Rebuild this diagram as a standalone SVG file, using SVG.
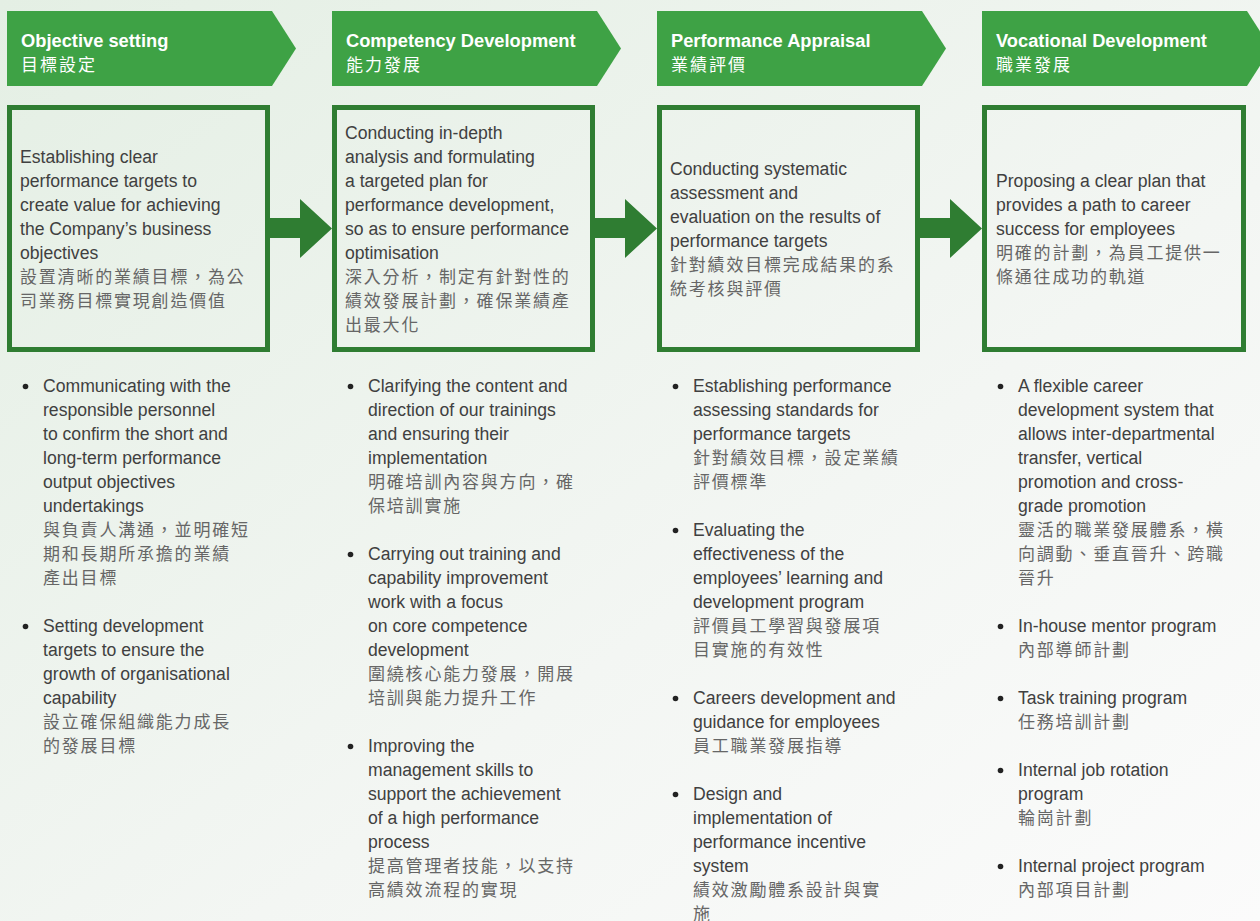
<svg xmlns="http://www.w3.org/2000/svg" width="1260" height="921" viewBox="0 0 1260 921">
<defs>
<linearGradient id="bg" x1="0" y1="0" x2="1" y2="1">
<stop offset="0" stop-color="#e4efe4"/>
<stop offset="0.6" stop-color="#f3f6f3"/>
<stop offset="1" stop-color="#fbfbfb"/>
</linearGradient>
<style>
.hdr{fill:#3ea245}
.hen{font-family:"Liberation Sans",Arial,sans-serif;font-weight:bold;font-size:18.3px;fill:#fff}
.hzh{font-family:"Noto Sans CJK TC","Noto Sans CJK SC",sans-serif;font-size:17px;letter-spacing:2px;fill:#fff}
.box{fill:none;stroke:#2f7d32;stroke-width:5}
.arr{fill:#2f7d32}
.en{font-family:"Liberation Sans",Arial,sans-serif;font-size:17.6px;fill:#404040}
.zh{font-family:"Noto Sans CJK TC","Noto Sans CJK SC",sans-serif;font-size:17px;letter-spacing:1.8px;fill:#666}
.dot{fill:#222}
</style>
</defs>
<rect width="1260" height="921" fill="url(#bg)"/>

<g id="header1">
<polygon class="hdr" points="7,11 272,11 296,48.5 272,86 7,86"/>
<text class="hen" x="21" y="47">Objective setting</text>
<text class="hzh" x="21" y="71">目標設定</text>
</g>
<g id="header2">
<polygon class="hdr" points="332,11 597,11 621,48.5 597,86 332,86"/>
<text class="hen" x="346" y="47">Competency Development</text>
<text class="hzh" x="346" y="71">能力發展</text>
</g>
<g id="header3">
<polygon class="hdr" points="657,11 922,11 946,48.5 922,86 657,86"/>
<text class="hen" x="671" y="47">Performance Appraisal</text>
<text class="hzh" x="671" y="71">業績評價</text>
</g>
<g id="header4">
<polygon class="hdr" points="982,11 1247,11 1271,48.5 1247,86 982,86"/>
<text class="hen" x="996" y="47">Vocational Development</text>
<text class="hzh" x="996" y="71">職業發展</text>
</g>

<g id="box1">
<rect class="box" x="9.5" y="107.5" width="258" height="242"/>
<text class="en" x="20" y="163">Establishing clear</text>
<text class="en" x="20" y="187">performance targets to</text>
<text class="en" x="20" y="211">create value for achieving</text>
<text class="en" x="20" y="235">the Company’s business</text>
<text class="en" x="20" y="259">objectives</text>
<text class="zh" x="20" y="283">設置清晰的業績目標，為公</text>
<text class="zh" x="20" y="307">司業務目標實現創造價值</text>
</g>
<g id="box2">
<rect class="box" x="334.5" y="107.5" width="258" height="242"/>
<text class="en" x="345" y="139">Conducting in-depth</text>
<text class="en" x="345" y="163">analysis and formulating</text>
<text class="en" x="345" y="187">a targeted plan for</text>
<text class="en" x="345" y="211">performance development,</text>
<text class="en" x="345" y="235">so as to ensure performance</text>
<text class="en" x="345" y="259">optimisation</text>
<text class="zh" x="345" y="283">深入分析，制定有針對性的</text>
<text class="zh" x="345" y="307">績效發展計劃，確保業績產</text>
<text class="zh" x="345" y="331">出最大化</text>
</g>
<g id="box3">
<rect class="box" x="659.5" y="107.5" width="258" height="242"/>
<text class="en" x="670" y="175">Conducting systematic</text>
<text class="en" x="670" y="199">assessment and</text>
<text class="en" x="670" y="223">evaluation on the results of</text>
<text class="en" x="670" y="247">performance targets</text>
<text class="zh" x="670" y="271">針對績效目標完成結果的系</text>
<text class="zh" x="670" y="295">統考核與評價</text>
</g>
<g id="box4">
<rect class="box" x="984.5" y="107.5" width="259" height="242"/>
<text class="en" x="996" y="187">Proposing a clear plan that</text>
<text class="en" x="996" y="211">provides a path to career</text>
<text class="en" x="996" y="235">success for employees</text>
<text class="zh" x="996" y="259">明確的計劃，為員工提供一</text>
<text class="zh" x="996" y="283">條通往成功的軌道</text>
</g>

<g id="connectors">
<polygon class="arr" points="268,218 300,218 300,199 332,228.5 300,258 300,238 268,238"/>
<polygon class="arr" points="593,218 625,218 625,199 657,228.5 625,258 625,238 593,238"/>
<polygon class="arr" points="918,218 950,218 950,199 982,228.5 950,258 950,238 918,238"/>
</g>

<g id="list1">
<circle class="dot" cx="25.5" cy="386.5" r="2.8"/>
<text class="en" x="43" y="392">Communicating with the</text>
<text class="en" x="43" y="416">responsible personnel</text>
<text class="en" x="43" y="440">to confirm the short and</text>
<text class="en" x="43" y="464">long-term performance</text>
<text class="en" x="43" y="488">output objectives</text>
<text class="en" x="43" y="512">undertakings</text>
<text class="zh" x="43" y="536">與負責人溝通，並明確短</text>
<text class="zh" x="43" y="560">期和長期所承擔的業績</text>
<text class="zh" x="43" y="584">產出目標</text>
<circle class="dot" cx="25.5" cy="626.5" r="2.8"/>
<text class="en" x="43" y="632">Setting development</text>
<text class="en" x="43" y="656">targets to ensure the</text>
<text class="en" x="43" y="680">growth of organisational</text>
<text class="en" x="43" y="704">capability</text>
<text class="zh" x="43" y="728">設立確保組織能力成長</text>
<text class="zh" x="43" y="752">的發展目標</text>
</g>

<g id="list2">
<circle class="dot" cx="350.5" cy="386.5" r="2.8"/>
<text class="en" x="368" y="392">Clarifying the content and</text>
<text class="en" x="368" y="416">direction of our trainings</text>
<text class="en" x="368" y="440">and ensuring their</text>
<text class="en" x="368" y="464">implementation</text>
<text class="zh" x="368" y="488">明確培訓內容與方向，確</text>
<text class="zh" x="368" y="512">保培訓實施</text>
<circle class="dot" cx="350.5" cy="554.5" r="2.8"/>
<text class="en" x="368" y="560">Carrying out training and</text>
<text class="en" x="368" y="584">capability improvement</text>
<text class="en" x="368" y="608">work with a focus</text>
<text class="en" x="368" y="632">on core competence</text>
<text class="en" x="368" y="656">development</text>
<text class="zh" x="368" y="680">圍繞核心能力發展，開展</text>
<text class="zh" x="368" y="704">培訓與能力提升工作</text>
<circle class="dot" cx="350.5" cy="746.5" r="2.8"/>
<text class="en" x="368" y="752">Improving the</text>
<text class="en" x="368" y="776">management skills to</text>
<text class="en" x="368" y="800">support the achievement</text>
<text class="en" x="368" y="824">of a high performance</text>
<text class="en" x="368" y="848">process</text>
<text class="zh" x="368" y="872">提高管理者技能，以支持</text>
<text class="zh" x="368" y="896">高績效流程的實現</text>
</g>

<g id="list3">
<circle class="dot" cx="675.5" cy="386.5" r="2.8"/>
<text class="en" x="693" y="392">Establishing performance</text>
<text class="en" x="693" y="416">assessing standards for</text>
<text class="en" x="693" y="440">performance targets</text>
<text class="zh" x="693" y="464">針對績效目標，設定業績</text>
<text class="zh" x="693" y="488">評價標準</text>
<circle class="dot" cx="675.5" cy="530.5" r="2.8"/>
<text class="en" x="693" y="536">Evaluating the</text>
<text class="en" x="693" y="560">effectiveness of the</text>
<text class="en" x="693" y="584">employees’ learning and</text>
<text class="en" x="693" y="608">development program</text>
<text class="zh" x="693" y="632">評價員工學習與發展項</text>
<text class="zh" x="693" y="656">目實施的有效性</text>
<circle class="dot" cx="675.5" cy="698.5" r="2.8"/>
<text class="en" x="693" y="704">Careers development and</text>
<text class="en" x="693" y="728">guidance for employees</text>
<text class="zh" x="693" y="752">員工職業發展指導</text>
<circle class="dot" cx="675.5" cy="794.5" r="2.8"/>
<text class="en" x="693" y="800">Design and</text>
<text class="en" x="693" y="824">implementation of</text>
<text class="en" x="693" y="848">performance incentive</text>
<text class="en" x="693" y="872">system</text>
<text class="zh" x="693" y="896">績效激勵體系設計與實</text>
<text class="zh" x="693" y="920">施</text>
</g>

<g id="list4">
<circle class="dot" cx="1000.5" cy="386.5" r="2.8"/>
<text class="en" x="1018" y="392">A flexible career</text>
<text class="en" x="1018" y="416">development system that</text>
<text class="en" x="1018" y="440">allows inter-departmental</text>
<text class="en" x="1018" y="464">transfer, vertical</text>
<text class="en" x="1018" y="488">promotion and cross-</text>
<text class="en" x="1018" y="512">grade promotion</text>
<text class="zh" x="1018" y="536">靈活的職業發展體系，橫</text>
<text class="zh" x="1018" y="560">向調動、垂直晉升、跨職</text>
<text class="zh" x="1018" y="584">晉升</text>
<circle class="dot" cx="1000.5" cy="626.5" r="2.8"/>
<text class="en" x="1018" y="632">In-house mentor program</text>
<text class="zh" x="1018" y="656">內部導師計劃</text>
<circle class="dot" cx="1000.5" cy="698.5" r="2.8"/>
<text class="en" x="1018" y="704">Task training program</text>
<text class="zh" x="1018" y="728">任務培訓計劃</text>
<circle class="dot" cx="1000.5" cy="770.5" r="2.8"/>
<text class="en" x="1018" y="776">Internal job rotation</text>
<text class="en" x="1018" y="800">program</text>
<text class="zh" x="1018" y="824">輪崗計劃</text>
<circle class="dot" cx="1000.5" cy="866.5" r="2.8"/>
<text class="en" x="1018" y="872">Internal project program</text>
<text class="zh" x="1018" y="896">內部項目計劃</text>
</g>
</svg>
